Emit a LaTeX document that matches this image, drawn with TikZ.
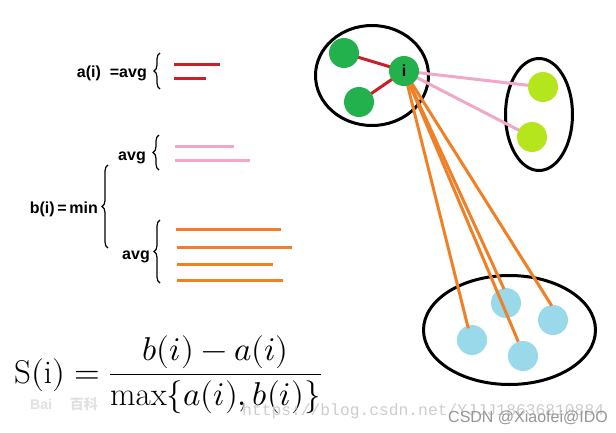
\documentclass[tikz,border=0pt]{standalone}
\usepackage{fontspec}
\usepackage{unicode-math}
\setmathfont{Latin Modern Math}
\newfontfamily\lsans{Liberation Sans}
\newfontfamily\lmono{Liberation Mono}
\newfontfamily\cjkfont{Noto Sans CJK SC}
\usetikzlibrary{decorations.pathreplacing,shapes.geometric}
\definecolor{cgreen}{RGB}{34,177,76}
\definecolor{clime}{RGB}{181,230,29}
\definecolor{cblue}{RGB}{153,217,234}
\definecolor{cred}{RGB}{200,32,42}
\definecolor{cpink}{RGB}{240,168,200}
\definecolor{corange}{RGB}{240,128,40}
\definecolor{wmdark}{RGB}{150,150,150}
\definecolor{wmlight}{RGB}{205,205,205}
\definecolor{wmfaint}{RGB}{225,225,225}
\pgfdeclarelayer{bgfill}
\pgfdeclarelayer{back}
\pgfdeclarelayer{mid}
\pgfsetlayers{bgfill,back,mid,main}
\begin{document}
\begin{tikzpicture}[x=1pt,y=-1pt,
  lbl/.style={font=\lsans\bfseries\fontsize{16}{18}\selectfont, inner sep=0pt, anchor=east},
  bracestyle/.style={decorate, decoration={brace, amplitude=6pt}, line width=1.2pt},
  dot/.style={circle, minimum size=30pt, inner sep=0pt},
  cluster/.style={draw, ellipse, line width=3pt, inner sep=0pt},
  bar/.style={line width=3pt},
  wire/.style={line width=3pt}
]
\begin{pgfonlayer}{bgfill}
\fill[white] (0,0) rectangle (616,432);
\end{pgfonlayer}
\useasboundingbox (0,0) rectangle (616,432);

% ---- clusters ----
\begin{pgfonlayer}{back}
\node[cluster, minimum width=113pt, minimum height=100pt] (ca) at (372,75.5) {};
\node[cluster, minimum width=67pt, minimum height=112pt] (cb) at (539,114.5) {};
\node[cluster, minimum width=172pt, minimum height=109pt] (cc) at (509.5,330) {};
\node[dot, fill=cblue] (b1) at (506,303) {};
\node[dot, fill=cblue] (b2) at (553,320) {};
\node[dot, fill=cblue] (b3) at (472,340) {};
\node[dot, fill=cblue] (b4) at (523,356) {};
\end{pgfonlayer}

\node[dot, fill=cgreen] (g1) at (344,53) {};
\node[dot, fill=cgreen, font=\lsans\bfseries\fontsize{16}{18}\selectfont] (i) at (404,71) {i};
\node[dot, fill=cgreen] (g3) at (359,102) {};
\node[dot, fill=clime] (l1) at (543,87) {};
\node[dot, fill=clime] (l2) at (532,137) {};

\coordinate (e1) at (504,289);
\coordinate (e2) at (551.7,305.7);
\coordinate (e3) at (468.3,328.3);
\coordinate (e4) at (518.3,341.7);

\begin{pgfonlayer}{mid}
\draw[wire, cred] (g1.center) -- (i.center);
\draw[wire, cred] (g3.center) -- (i.center);
\draw[wire, cpink] (i.center) -- (l1.center);
\draw[wire, cpink] (i.center) -- (l2.center);
\draw[wire, corange] (i.center) -- (e1);
\draw[wire, corange] (i.center) -- (e2);
\draw[wire, corange] (i.center) -- (e3);
\draw[wire, corange] (i.center) -- (e4);
\end{pgfonlayer}

% ---- left side ----
\node[lbl] (ta) at (147,73) {a(i)\hspace{9pt}=avg};
\draw[bracestyle] (160,89) -- (160,53);
\draw[bar, cred] (174,64) -- (220,64);
\draw[bar, cred] (174,78) -- (206,78);

\node[lbl] (tb1) at (146,158) {avg};
\draw[bracestyle] (159,170) -- (159,135);
\draw[bar, cpink] (175,146) -- (234,146);
\draw[bar, cpink] (175,160) -- (250,160);

\node[lbl] (tb) at (98,209) {b(i)\,=\,min};
\draw[bracestyle] (108,248) -- (108,165);

\node[lbl] (tb2) at (150,257) {avg};
\draw[bracestyle] (160,283) -- (160,220);
\draw[bar, corange] (176,229) -- (281,229);
\draw[bar, corange] (177,247) -- (292,247);
\draw[bar, corange] (177,264) -- (273,264);
\draw[bar, corange] (177,280) -- (283,280);

% ---- formula ----
\node[inner sep=0pt, anchor=base west, font=\fontsize{33}{40}\selectfont] (f) at (14,383)
  {$\displaystyle \mathrm{S(i)} = \frac{b(i)-a(i)}{\max\{a(i),b(i)\}}$};

% ---- watermarks ----
\node[inner sep=0pt, anchor=west, text=wmfaint, font=\lsans\bfseries\fontsize{14}{16}\selectfont] (wb) at (30,404) {Bai\hspace{18pt}{\cjkfont 百科}};
\node[inner sep=0pt, anchor=west, text=wmlight, font=\lmono\fontsize{16.3}{18}\selectfont] (wu) at (242,411) {https://blog.csdn.net/YJJJ18636810884};
\node[inner sep=0pt, anchor=west, text=wmdark, font=\lsans\fontsize{16}{18}\selectfont] (wc) at (448,418) {CSDN @Xiaofei@IDO};
\end{tikzpicture}
\end{document}
